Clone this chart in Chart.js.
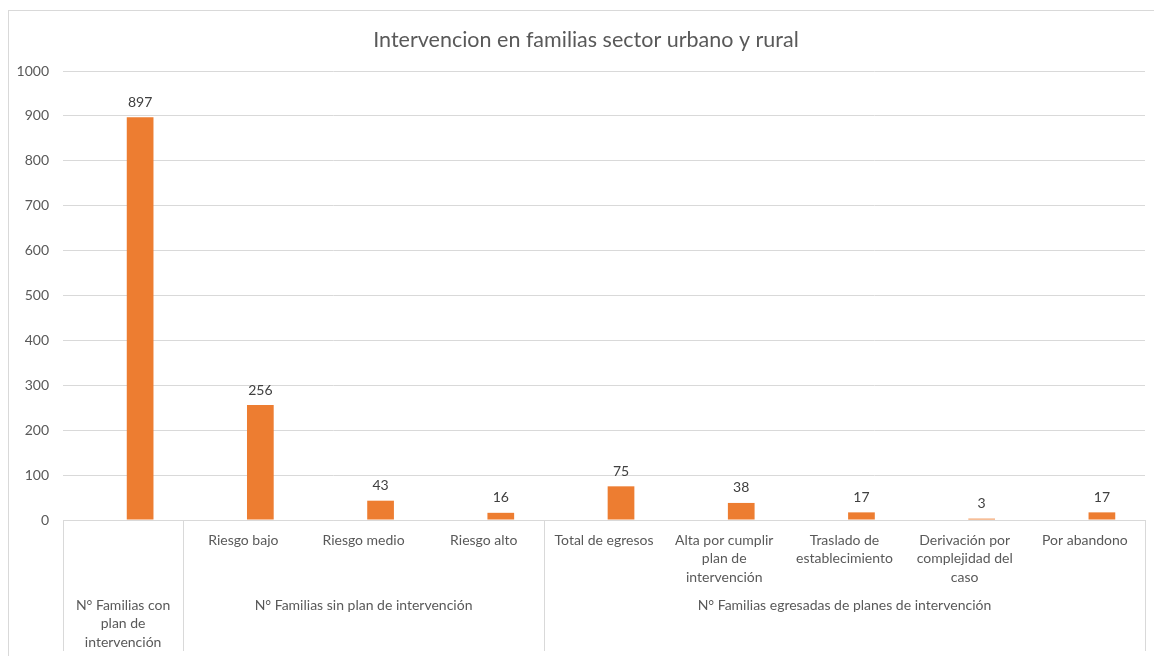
<!DOCTYPE html>
<html>
<head>
<meta charset="utf-8">
<script src="https://cdn.jsdelivr.net/npm/chart.js@4.4.0/dist/chart.umd.min.js"></script>
<style>
  html, body { margin: 0; padding: 0; background: #fff; }
  #wrap { width: 1154px; height: 656px; position: relative; }
</style>
</head>
<body>
<div id="wrap"><canvas id="grafico"></canvas></div>
<script>
// Datos del gráfico
const titulo = "Intervencion en familias sector urbano y rural";
const subcategorias = [
    [""],
    ["Riesgo bajo"],
    ["Riesgo medio"],
    ["Riesgo alto"],
    ["Total de egresos"],
    ["Alta por cumplir", "plan de", "intervención"],
    ["Traslado de", "establecimiento"],
    ["Derivación por", "complejidad del", "caso"],
    ["Por abandono"]
];
const grupos = [
    ["N° Familias con", "plan de", "intervención"],
    ["N° Familias sin plan de intervención"],
    ["N° Familias egresadas de planes de intervención"]
];
const grupoTamanos = [1, 3, 5];
const valores = [897, 256, 43, 16, 75, 38, 17, 3, 17];
const serieVacia = [null, null, null, null, null, null, null, null, null];

const fuente = "Lato, 'Open Sans', sans-serif";
const gris = "#595959";
const linea = "#d9d9d9";

// Plugin para marco, título, etiquetas de datos y eje de varios niveles
const dibujoExtra = {
    id: "dibujoExtra",
    beforeDraw(chart) {
        const c = chart.ctx;
        c.save();
        c.fillStyle = "#fff";
        c.fillRect(0, 0, chart.width, chart.height);
        c.strokeStyle = linea;
        c.lineWidth = 1;
        c.strokeRect(8.5, 10.5, chart.width + 20, chart.height + 20);
        c.fillStyle = gris;
        c.font = "21.5px " + fuente;
        c.textAlign = "center";
        c.textBaseline = "middle";
        c.fillText(titulo, 586, 40);
        c.restore();
    },
    afterDatasetsDraw(chart) {
        const c = chart.ctx;
        const meta = chart.getDatasetMeta(1);
        c.save();
        c.fillStyle = "#404040";
        c.font = "14px " + fuente;
        c.textAlign = "center";
        c.textBaseline = "middle";
        meta.data.forEach((barra, i) => {
            c.fillText(String(valores[i]), barra.x, barra.y - 15);
        });

        // Eje de categorías en dos niveles
        const x = chart.scales.x;
        const area = chart.chartArea;
        const ancho = (area.right - area.left) / subcategorias.length;
        c.fillStyle = gris;
        subcategorias.forEach((lineas, i) => {
            const cx = x.getPixelForValue(i);
            lineas.forEach((t, j) => c.fillText(t, cx, 540 + j * 18.5));
        });
        c.strokeStyle = linea;
        c.lineWidth = 1;
        let inicio = 0;
        const bordes = [0];
        grupos.forEach((lineas, g) => {
            const fin = inicio + grupoTamanos[g];
            const cx = area.left + ancho * (inicio + fin) / 2;
            lineas.forEach((t, j) => c.fillText(t, cx, 605 + j * 18.5));
            bordes.push(fin);
            inicio = fin;
        });
        bordes.forEach(b => {
            const px = Math.round(area.left + ancho * b) + 0.5;
            c.beginPath();
            c.moveTo(px, area.bottom);
            c.lineTo(px, 651);
            c.stroke();
        });
        c.restore();
    }
};

const ctx = document.getElementById("grafico").getContext("2d");
const grafico = new Chart(ctx, {
    type: "bar",
    data: {
        labels: subcategorias.map(s => s.join(" ")),
        datasets: [
            { label: "", data: serieVacia, backgroundColor: "#ED7D31" },
            { label: "Familias", data: valores, backgroundColor: "#ED7D31" }
        ]
    },
    options: {
        responsive: true,
        maintainAspectRatio: false,
        animation: false,
        categoryPercentage: 0.566,
        barPercentage: 0.785,
        layout: { padding: { top: 71, right: 9, bottom: 0, left: 0 } },
        plugins: {
            legend: { display: false },
            title: { display: false },
            tooltip: { enabled: false }
        },
        scales: {
            x: {
                grid: { display: false },
                border: { display: true, color: linea, width: 1 },
                ticks: { display: false },
                afterFit: s => { s.height = 136; }
            },
            y: {
                min: 0,
                max: 1000,
                ticks: {
                    stepSize: 100,
                    color: gris,
                    font: { family: fuente, size: 14 },
                    padding: 14,
                    callback: v => String(v)
                },
                grid: { color: linea, lineWidth: 1, drawTicks: false },
                border: { display: false },
                afterFit: s => { s.width = 63; }
            }
        }
    },
    plugins: [dibujoExtra]
});
</script>
</body>
</html>
